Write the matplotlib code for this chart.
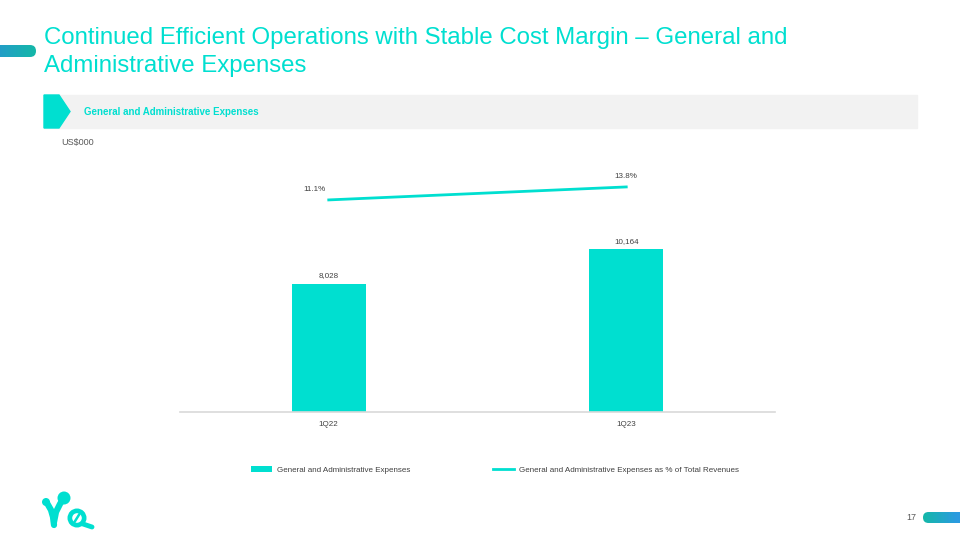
import numpy as np
import matplotlib.pyplot as plt
from matplotlib.patches import Polygon, Rectangle, FancyBboxPatch, Ellipse
from matplotlib.colors import LinearSegmentedColormap
from matplotlib.lines import Line2D

plt.rcParams['font.family'] = ['Liberation Sans', 'DejaVu Sans']

# data
quarters = ['1Q22', '1Q23']
ga_expenses = [8028, 10164]
ga_pct_revenue = [11.1, 13.8]

teal = '#00DFD0'
txt = '#404040'
small = 5.8

fig = plt.figure(figsize=(9.6, 5.4), dpi=100)

W, H = 960, 540
def fx(px):
    return px / W
def fy(py):
    return 1 - py / H

# title
fig.text(fx(44), fy(38), 'Continued Efficient Operations with Stable Cost Margin \u2013 General and',
         color=teal, fontsize=17.25, va='center', ha='left')
fig.text(fx(44), fy(66), 'Administrative Expenses',
         color=teal, fontsize=17.25, va='center', ha='left')

# section banner
fig.patches.append(Rectangle((fx(44), fy(128)), fx(917) - fx(44), fy(95) - fy(128),
                             transform=fig.transFigure, color='#F2F2F2', zorder=0))
chev = [(44, 95), (59, 95), (70, 111.5), (59, 128), (44, 128)]
fig.patches.append(Polygon([(fx(a), fy(b)) for a, b in chev], closed=True,
                           transform=fig.transFigure, color=teal, zorder=1))
fig.text(fx(84), fy(112), 'General and Administrative Expenses', color=teal,
         fontsize=7, fontweight='bold', va='center', ha='left')
fig.text(fx(61), fy(142), 'US$000', color='#595959', fontsize=6.5, va='center', ha='left')

# gradient decorations
def grad_bar(x0, y0, x1, y1, colors):
    w, h = x1 - x0, y1 - y0
    gax = fig.add_axes([fx(x0), fy(y1), fx(x1) - fx(x0), fy(y0) - fy(y1)])
    cmap = LinearSegmentedColormap.from_list('g', colors)
    g = np.linspace(0, 1, 256).reshape(1, -1)
    im = gax.imshow(g, aspect='auto', cmap=cmap, extent=[0, w, 0, h])
    clip = FancyBboxPatch((0, 0), w, h, boxstyle=f'round,pad=0,rounding_size={h / 2}',
                          facecolor='none', edgecolor='none', transform=gax.transData)
    gax.add_patch(clip)
    im.set_clip_path(clip)
    gax.set_xlim(0, w)
    gax.set_ylim(0, h)
    gax.axis('off')

grad_bar(-20, 45, 36, 57, ['#2B8FD8', '#14B8A8'])
grad_bar(923, 512, 990, 523, ['#14B8A8', '#2B9BE0', '#2B9BE0'])
fig.text(fx(916), fy(518), '17', color='#595959', fontsize=6.5, va='center', ha='right')

# logo approximation
def dot(cx, cy, r, color):
    fig.patches.append(Ellipse((fx(cx), fy(cy)), 2 * r / W, 2 * r / H,
                               transform=fig.transFigure, facecolor=color, edgecolor='none'))

fig.add_artist(Line2D([fx(47), fx(51), fx(53), fx(54)], [fy(503), fy(510), fy(517), fy(525)],
                      color=teal, lw=4.5, solid_capstyle='round', transform=fig.transFigure))
fig.add_artist(Line2D([fx(54), fx(56), fx(60), fx(63)], [fy(522), fy(512), fy(504), fy(499)],
                      color=teal, lw=4.5, solid_capstyle='round', transform=fig.transFigure))
dot(64, 498, 6.5, teal)
dot(46, 502, 4, teal)
dot(77, 518, 9.5, teal)
dot(77, 518, 4.8, 'white')
fig.add_artist(Line2D([fx(74.5), fx(79.5)], [fy(522), fy(514)], color=teal, lw=1.8,
                      solid_capstyle='round', transform=fig.transFigure))
fig.add_artist(Line2D([fx(83), fx(92)], [fy(524), fy(527)], color=teal, lw=3.5,
                      solid_capstyle='round', transform=fig.transFigure))

# main chart
ax = fig.add_axes([fx(180), fy(412), fx(775) - fx(180), fy(160) - fy(412)])
x = np.arange(len(quarters))
ax.bar(x, ga_expenses, width=0.25, color=teal, zorder=2,
       label='General and Administrative Expenses')
for xi, v in zip(x, ga_expenses):
    ax.annotate(f'{v:,}', (xi, v), xytext=(0, 3), textcoords='offset points',
                ha='center', va='bottom', fontsize=small, color=txt)
ax.set_xlim(-0.5, 1.5)
ax.set_ylim(0, 15750)
ax.set_xticks(x)
ax.set_xticklabels(quarters, fontsize=small, color=txt)
ax.tick_params(axis='x', length=0, pad=6.5)
ax.set_yticks([])
for s in ['top', 'right', 'left']:
    ax.spines[s].set_visible(False)
ax.spines['bottom'].set_color('#D9D9D9')
ax.spines['bottom'].set_linewidth(1.2)

ax2 = ax.twinx()
ax2.plot(x, ga_pct_revenue, color=teal, lw=2,
         label='General and Administrative Expenses as % of Total Revenues')
ax2.set_ylim(-33, 19.4)
ax2.axis('off')
label_offsets = [(-10, 5), (0, 5)]
for xi, v, off in zip(x, ga_pct_revenue, label_offsets):
    ax2.annotate(f'{v:.1f}%', (xi, v), xytext=off, textcoords='offset points',
                 ha='center', va='bottom', fontsize=small, color=txt)

h1, l1 = ax.get_legend_handles_labels()
h2, l2 = ax2.get_legend_handles_labels()
fig.legend(h1 + h2, l1 + l2, loc='center left', bbox_to_anchor=(fx(244), fy(470)),
           ncol=2, frameon=False, fontsize=small, handlelength=2.6, handleheight=0.7,
           handletextpad=0.6, columnspacing=10.3, labelcolor=txt)

fig.savefig('out.png', dpi=100)
